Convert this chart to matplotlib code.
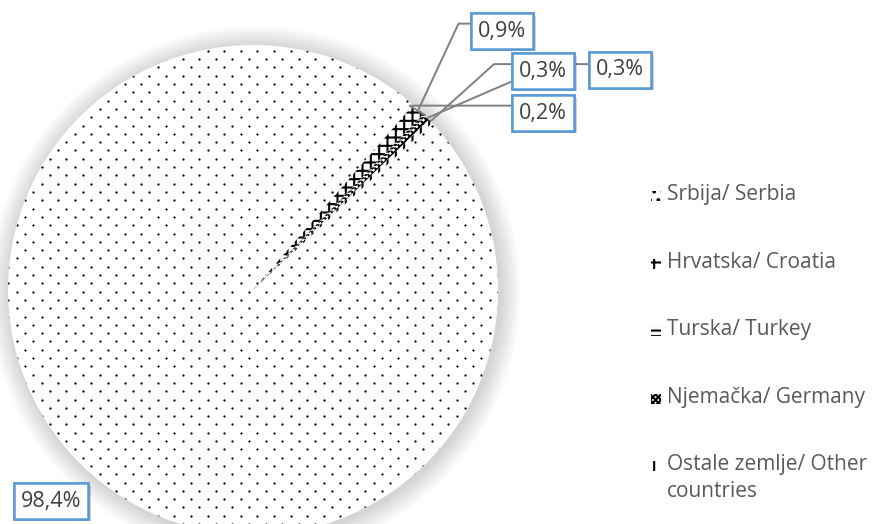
import numpy as np
import matplotlib
matplotlib.use('Agg')
import matplotlib.pyplot as plt
from matplotlib.patches import Rectangle, Circle
import matplotlib.patheffects as pe

# data
countries = ['Srbija/ Serbia', 'Hrvatska/ Croatia', 'Turska/ Turkey',
             'Njemačka/ Germany', 'Ostale zemlje/ Other\ncountries']
shares = [98.4, 0.9, 0.2, 0.3, 0.3]
share_labels = ['98,4%', '0,9%', '0,2%', '0,3%', '0,3%']
hatches = ['.', '++', '-----', 'xxxxx', '||']
legend_hatches = ['..', '++', '---', 'xxxxxx', '||']
explode = [0, 0, 0.18, 0, 0]

plt.rcParams['font.family'] = ['Open Sans', 'DejaVu Sans']
plt.rcParams['hatch.linewidth'] = 1.5

W, H = 874, 524
fig = plt.figure(figsize=(W / 100, H / 100), dpi=100)
ax = fig.add_axes([0, 0, 1, 1])

cx, cy, R = 253, H - 290, 245

# soft glow around the pie
for k in range(14):
    ax.add_patch(Circle((cx + 2, cy - 2), R + 1.5 * (k + 1), facecolor='black',
                        alpha=0.011, lw=0, zorder=0))

wedges, _ = ax.pie(shares, colors=['white'] * len(shares), startangle=43,
                   counterclock=False, radius=R, center=(cx, cy), explode=explode,
                   frame=True, wedgeprops=dict(edgecolor='black', linewidth=0))
for w, h in zip(wedges[1:], hatches[1:]):
    w.set_hatch(h)
for w in wedges:
    w.set_zorder(2)

# dotted fill for the big slice (Excel "dotted" pattern)
step = 16.6
gx, gy = [], []
for j, yy in enumerate(np.arange(0, H, step / 2)):
    xs = np.arange(0, W, step) + (j % 2) * step / 2
    gx.extend(xs)
    gy.extend([yy] * len(xs))
dots = ax.scatter(gx, gy, s=2.6, c='black', linewidths=0, zorder=2.5)
dots.set_clip_path(wedges[0])

ax.set_xlim(0, W)
ax.set_ylim(0, H)
ax.axis('off')


def tip(w):
    a = np.deg2rad((w.theta1 + w.theta2) / 2)
    return (w.center[0] + w.r * np.cos(a), w.center[1] + w.r * np.sin(a))


box = dict(boxstyle='square,pad=0.33', facecolor='white', edgecolor='#5B9BD5', linewidth=1.8)
lead = dict(arrowstyle='-', color='#808080', lw=1.4, shrinkA=0, shrinkB=0)

# label layout (image coords, y down) and leader styles
label_pos = {1: (502, 31), 4: (620, 70), 3: (543, 71), 2: (543, 113)}
leader = {
    1: ((0, 0.85), 'angle,angleA=0,angleB=65,rad=0'),
    4: ((0, 0.78), 'angle,angleA=0,angleB=42,rad=0'),
    3: ((0, 0.15), 'arc3'),
    2: ((0, 0.85), 'angle,angleA=0,angleB=-32,rad=0'),
}

for i in [1, 4, 3, 2]:
    x, y = label_pos[i]
    rp, cs = leader[i]
    t = ax.annotate(share_labels[i], xy=tip(wedges[i]), xytext=(x, H - y),
                    ha='center', va='center', fontsize=15.5, color='#404040',
                    bbox=box, zorder=5,
                    arrowprops=dict(lead, relpos=rp, connectionstyle=cs))
    t.get_bbox_patch().set_path_effects([pe.withSimplePatchShadow(offset=(2, -2), alpha=0.25), pe.Normal()])

t = ax.text(51, H - 501, share_labels[0], ha='center', va='center', fontsize=15.5,
            color='#404040', bbox=box, zorder=5)
t.get_bbox_patch().set_path_effects([pe.withSimplePatchShadow(offset=(2, -2), alpha=0.25), pe.Normal()])

# legend
for i, name in enumerate(countries):
    yc = H - (196 + i * 67.5)
    ax.add_patch(Rectangle((651, yc - 5), 10, 10, facecolor='white', edgecolor='black',
                           lw=0, hatch=legend_hatches[i], zorder=3))
    ax.text(667, yc + 12, name, ha='left', va='top', fontsize=15, color='#595959',
            linespacing=1.4)

fig.savefig('out.png', dpi=100)
